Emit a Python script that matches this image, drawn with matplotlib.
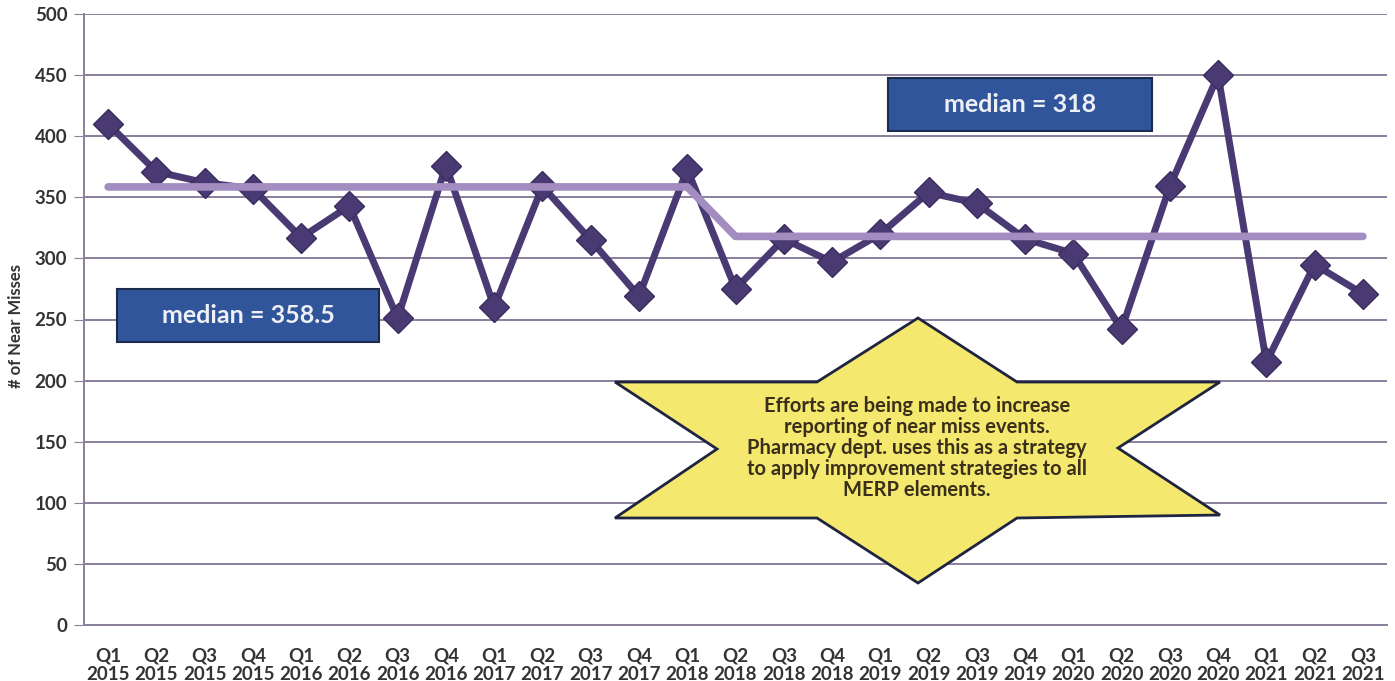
import matplotlib
matplotlib.use("Agg")
import matplotlib.pyplot as plt
from matplotlib.patches import Polygon, Rectangle

quarters = ["Q1", "Q2", "Q3", "Q4"] * 6 + ["Q1", "Q2", "Q3"]
years = ["2015"] * 4 + ["2016"] * 4 + ["2017"] * 4 + ["2018"] * 4 + ["2019"] * 4 + ["2020"] * 4 + ["2021"] * 3
near_misses = [410, 371, 362, 357, 317, 343, 251, 376, 260, 359, 315, 269, 373,
               275, 316, 297, 320, 354, 345, 316, 304, 242, 359, 450, 215, 295, 271]
median_line = [358.5] * 13 + [318] * 14
yticks = list(range(0, 501, 50))
labels = [f"{q}\n{y}" for q, y in zip(quarters, years)]

plt.rcParams['font.family'] = ['Lato', 'DejaVu Sans']

W, H = 1395, 681
fig = plt.figure(figsize=(W / 100, H / 100), dpi=100)
ax = fig.add_axes([84 / W, 1 - 625 / H, (1387 - 84) / W, (625 - 14) / H])

x = list(range(len(near_misses)))
grid_c = "#8a7f9c"
ax.set_ylim(0, 500)
ax.set_xlim(-0.5, len(x) - 0.5)
ax.set_yticks(yticks)
ax.yaxis.grid(True, color=grid_c, linewidth=1.4)
ax.set_axisbelow(True)
for s in ["top", "right"]:
    ax.spines[s].set_visible(False)
ax.spines["left"].set_color(grid_c)
ax.spines["bottom"].set_color(grid_c)
ax.spines["left"].set_linewidth(1.4)
ax.spines["bottom"].set_linewidth(1.4)
ax.tick_params(axis="y", length=7, color=grid_c, labelsize=13.5, labelcolor="#333333", pad=5)
ax.tick_params(axis="x", length=0, labelsize=13.5, labelcolor="#333333", pad=16)
for t in ax.get_yticklabels():
    t.set_fontweight("bold")
ax.set_xticks(x)
ax.set_xticklabels(labels, fontweight="bold", linespacing=1.15)
ax.set_ylabel("# of Near Misses", fontsize=12, fontweight="bold", color="#333333")
ax.yaxis.set_label_coords(-0.046, 0.49)

ax.plot(x, near_misses, color="#4a3a73", linewidth=5, marker="D", markersize=15,
        markerfacecolor="#4a3a73", markeredgecolor="#3a2c5e", zorder=3)
ax.plot(x, median_line, color="#a28cc0", linewidth=5.5, solid_capstyle="round", zorder=4)

def px(xp, yp):
    return (xp / W, 1 - yp / H)

# median boxes
for (x0, y0, x1, y1, txt) in [(117, 289, 379, 342, "median = 358.5"),
                              (888, 78, 1152, 131, "median = 318")]:
    fx0, fy1 = px(x0, y0)
    fx1, fy0 = px(x1, y1)
    fig.add_artist(Rectangle((fx0, fy0), fx1 - fx0, fy1 - fy0, transform=fig.transFigure,
                             facecolor="#30559a", edgecolor="#1c2b4d", linewidth=1.5, zorder=5))
    fig.text((fx0 + fx1) / 2, (fy0 + fy1) / 2, txt, transform=fig.transFigure,
             ha="center", va="center", color="#eef0f6", fontsize=18, fontweight="bold", zorder=6)

# star callout
star_px = [(918, 318), (1017, 382), (1220, 382), (1118, 448), (1220, 515), (1017, 518),
           (918, 583), (817, 518), (615, 518), (717, 449), (615, 382), (817, 382)]
fig.add_artist(Polygon([px(a, b) for a, b in star_px], closed=True, transform=fig.transFigure,
                       facecolor="#f4e86e", edgecolor="#1f2440", linewidth=2, zorder=5))
star_text = ("Efforts are being made to increase\nreporting of near miss events.\n"
             "Pharmacy dept. uses this as a strategy\nto apply improvement strategies to all\n"
             "MERP elements.")
cx, cy = px(917, 448)
fig.text(cx, cy, star_text, transform=fig.transFigure, ha="center", va="center",
         fontsize=14.5, fontweight="bold", color="#3a2f1a", linespacing=1.07, zorder=6)

fig.savefig("out.png", dpi=100, facecolor="white")
